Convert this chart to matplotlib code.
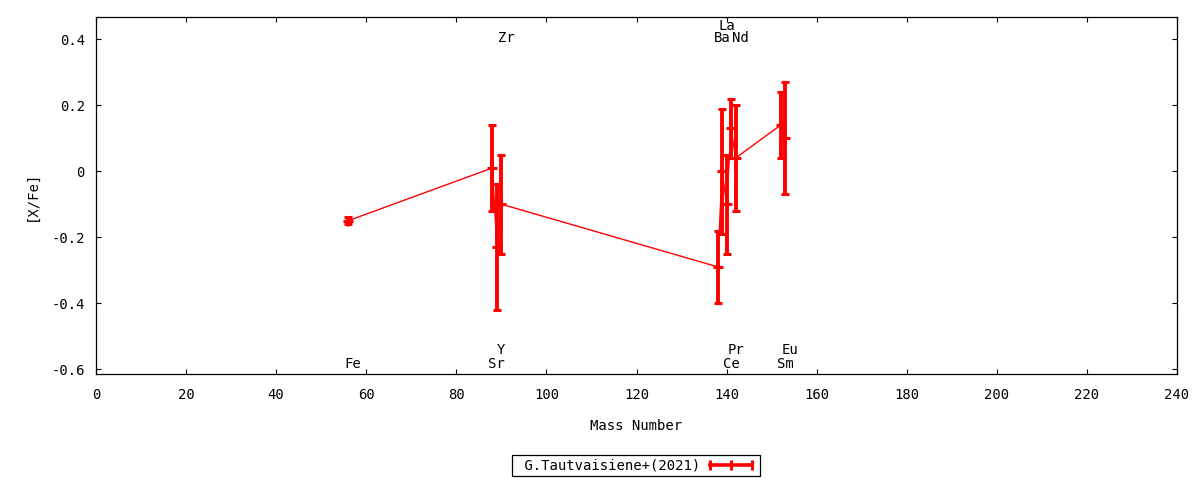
import matplotlib
matplotlib.use('Agg')
import matplotlib.pyplot as plt
from matplotlib.lines import Line2D

# ---- data ----
elements = ['Fe', 'Sr', 'Y', 'Zr', 'Ba', 'La', 'Ce', 'Pr', 'Nd', 'Sm', 'Eu']
mass_number = [56, 88, 89, 90, 138, 139, 140, 141, 142, 152, 153]
x_fe = [-0.15, 0.01, -0.23, -0.10, -0.29, 0.00, -0.10, 0.13, 0.04, 0.14, 0.10]
x_fe_err = [0.01, 0.13, 0.19, 0.15, 0.11, 0.19, 0.15, 0.09, 0.16, 0.10, 0.17]
# label row for each element name (gnuplot-style staggered labels)
label_rows = ['b0', 'b0', 'b1', 't0', 't0', 't1', 'b0', 'b1', 't0', 'b0', 'b1']
series_name = 'G.Tautvaisiene+(2021)'
x_ticks = [0, 20, 40, 60, 80, 100, 120, 140, 160, 180, 200, 220, 240]
y_ticks = [-0.6, -0.4, -0.2, 0.0, 0.2, 0.4]
y_tick_labels = ['-0.6', '-0.4', '-0.2', '0', '0.2', '0.4']

FONT = ['DejaVu Sans Mono']
plt.rcParams['font.family'] = FONT
plt.rcParams['font.size'] = 10

W, H = 1200, 480
fig = plt.figure(figsize=(W / 100, H / 100), dpi=100)
ax = fig.add_axes([96 / W, 1 - 374.3 / H, 1081 / W, 357 / H])

RED = '#ff0000'
ax.errorbar(mass_number, x_fe, yerr=x_fe_err, color=RED, lw=1.0,
            marker='+', markersize=6.5, markeredgewidth=2.2,
            elinewidth=2.8, capsize=3.0, capthick=2.3, zorder=3)

row_y = {'t0': 0.403, 't1': 0.44, 'b0': -0.586, 'b1': -0.542}
for el, m, r in zip(elements, mass_number, label_rows):
    ax.text(m + 1.0, row_y[r], el, ha='center', va='center', fontsize=10,
            color='black')

ax.set_xlim(0, 240)
ax.set_ylim(-0.616, 0.467)
ax.set_xticks(x_ticks)
ax.set_xticklabels([str(t) for t in x_ticks])
ax.set_yticks(y_ticks)
ax.set_yticklabels(y_tick_labels)
ax.tick_params(direction='in', length=3.6, width=0.8, top=True, right=True,
               labelsize=10, colors='black')
ax.tick_params(axis='x', pad=10)
ax.tick_params(axis='y', pad=8)
for s in ax.spines.values():
    s.set_linewidth(0.9)
    s.set_color('black')

ax.set_xlabel('Mass Number', fontsize=10)
ax.xaxis.set_label_coords(0.5, -0.126)
ax.set_ylabel('[X/Fe]', fontsize=10)
ax.yaxis.label.set_verticalalignment('center')
ax.yaxis.set_label_coords(-0.0592, 0.5)

handle = Line2D([], [], color=RED, lw=2.6, marker='|', markersize=7,
                markeredgewidth=2.2)
leg = fig.legend([handle], [' ' + series_name], loc='upper center',
                 bbox_to_anchor=(636 / W, 1 - 455 / H), bbox_transform=fig.transFigure,
                 borderaxespad=0, numpoints=3, markerfirst=False, handlelength=3.6,
                 fancybox=False, framealpha=1, edgecolor='black', fontsize=10,
                 borderpad=0.25, handletextpad=0.42)
leg.get_frame().set_linewidth(0.9)

fig.savefig('out.png', dpi=100)
